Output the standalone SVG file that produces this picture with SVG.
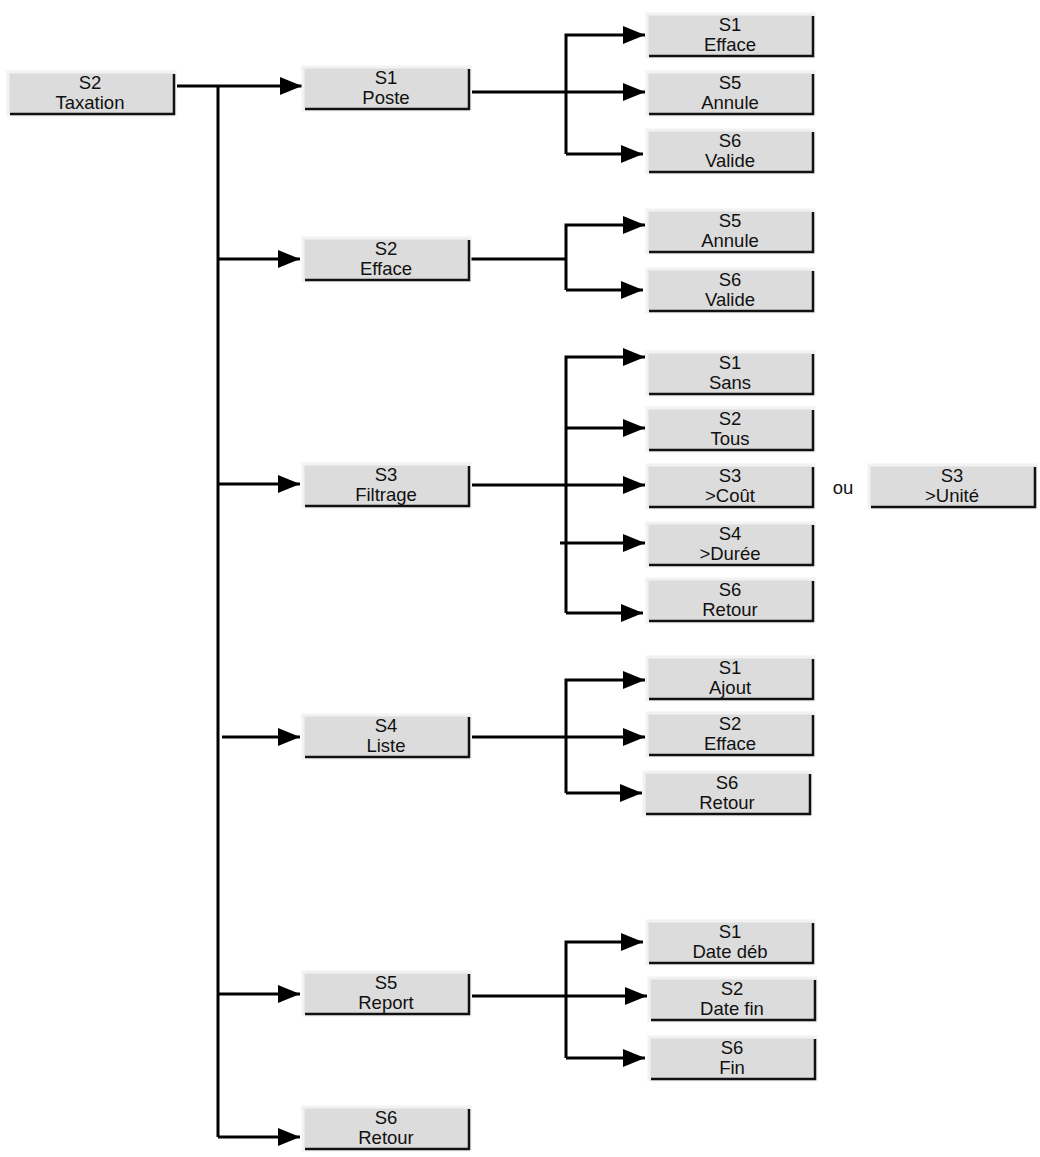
<svg xmlns="http://www.w3.org/2000/svg" width="1040" height="1157" viewBox="0 0 1040 1157">
<style>
.bg{fill:#dcdcdc;stroke:#f2f2f2;stroke-width:3}
.sh{fill:none;stroke:#111;stroke-width:2.5}
text{font-family:"Liberation Sans",Arial,sans-serif;font-size:18.5px;fill:#111;text-anchor:middle}
.c{fill:none;stroke:#000;stroke-width:3}
</style>
<defs>
<marker id="ar" markerWidth="22" markerHeight="18" refX="22" refY="9" orient="auto" markerUnits="userSpaceOnUse"><path d="M0,0 L22,9 L0,18 z" fill="#000"/></marker>
<g id="btn"><rect class="bg" x="0" y="0" width="167" height="43"/><path class="sh" d="M2,42 H166 V2"/></g>
</defs>
<g id="connectors">
<path class="c" d="M177,86 H302" marker-end="url(#ar)"/>
<path class="c" d="M218,86 V1137"/>
<path class="c" d="M218,259 H300" marker-end="url(#ar)"/>
<path class="c" d="M218,484 H300" marker-end="url(#ar)"/>
<path class="c" d="M222,737 H300" marker-end="url(#ar)"/>
<path class="c" d="M218,994 H300" marker-end="url(#ar)"/>
<path class="c" d="M218,1137 H300" marker-end="url(#ar)"/>
<path class="c" d="M472,92 H645" marker-end="url(#ar)"/>
<path class="c" d="M566,154 V35 H645" marker-end="url(#ar)"/>
<path class="c" d="M566,154 H643" marker-end="url(#ar)"/>
<path class="c" d="M470,259 H566"/>
<path class="c" d="M566,290 V225 H645" marker-end="url(#ar)"/>
<path class="c" d="M566,290 H643" marker-end="url(#ar)"/>
<path class="c" d="M472,485 H645" marker-end="url(#ar)"/>
<path class="c" d="M566,613 V357 H645" marker-end="url(#ar)"/>
<path class="c" d="M566,613 H643" marker-end="url(#ar)"/>
<path class="c" d="M566,428 H645" marker-end="url(#ar)"/>
<path class="c" d="M560,543 H645" marker-end="url(#ar)"/>
<path class="c" d="M472,737 H645" marker-end="url(#ar)"/>
<path class="c" d="M566,793 V680 H645" marker-end="url(#ar)"/>
<path class="c" d="M566,793 H642" marker-end="url(#ar)"/>
<path class="c" d="M472,996 H647" marker-end="url(#ar)"/>
<path class="c" d="M566,1058 V942 H643" marker-end="url(#ar)"/>
<path class="c" d="M566,1058 H645" marker-end="url(#ar)"/>
</g>
<g id="n0"><use href="#btn" x="8" y="72"/><text x="90" y="89">S2</text><text x="90" y="109">Taxation</text></g>
<g id="n1"><use href="#btn" x="303" y="67"/><text x="386" y="84">S1</text><text x="386" y="104">Poste</text></g>
<g id="n2"><use href="#btn" x="303" y="238"/><text x="386" y="255">S2</text><text x="386" y="275">Efface</text></g>
<g id="n3"><use href="#btn" x="303" y="464"/><text x="386" y="481">S3</text><text x="386" y="501">Filtrage</text></g>
<g id="n4"><use href="#btn" x="303" y="715"/><text x="386" y="732">S4</text><text x="386" y="752">Liste</text></g>
<g id="n5"><use href="#btn" x="303" y="972"/><text x="386" y="989">S5</text><text x="386" y="1009">Report</text></g>
<g id="n6"><use href="#btn" x="303" y="1107"/><text x="386" y="1124">S6</text><text x="386" y="1144">Retour</text></g>
<g id="n11"><use href="#btn" x="647" y="14"/><text x="730" y="31">S1</text><text x="730" y="51">Efface</text></g>
<g id="n12"><use href="#btn" x="647" y="72"/><text x="730" y="89">S5</text><text x="730" y="109">Annule</text></g>
<g id="n13"><use href="#btn" x="647" y="130"/><text x="730" y="147">S6</text><text x="730" y="167">Valide</text></g>
<g id="n21"><use href="#btn" x="647" y="210"/><text x="730" y="227">S5</text><text x="730" y="247">Annule</text></g>
<g id="n22"><use href="#btn" x="647" y="269"/><text x="730" y="286">S6</text><text x="730" y="306">Valide</text></g>
<g id="n31"><use href="#btn" x="647" y="352"/><text x="730" y="369">S1</text><text x="730" y="389">Sans</text></g>
<g id="n32"><use href="#btn" x="647" y="408"/><text x="730" y="425">S2</text><text x="730" y="445">Tous</text></g>
<g id="n33"><use href="#btn" x="647" y="465"/><text x="730" y="482">S3</text><text x="730" y="502">&gt;Coût</text></g>
<g id="n33b"><use href="#btn" x="869" y="465"/><text x="952" y="482">S3</text><text x="952" y="502">&gt;Unité</text></g>
<text x="843" y="494">ou</text>
<g id="n34"><use href="#btn" x="647" y="523"/><text x="730" y="540">S4</text><text x="730" y="560">&gt;Durée</text></g>
<g id="n35"><use href="#btn" x="647" y="579"/><text x="730" y="596">S6</text><text x="730" y="616">Retour</text></g>
<g id="n41"><use href="#btn" x="647" y="657"/><text x="730" y="674">S1</text><text x="730" y="694">Ajout</text></g>
<g id="n42"><use href="#btn" x="647" y="713"/><text x="730" y="730">S2</text><text x="730" y="750">Efface</text></g>
<g id="n43"><use href="#btn" x="644" y="772"/><text x="727" y="789">S6</text><text x="727" y="809">Retour</text></g>
<g id="n51"><use href="#btn" x="647" y="921"/><text x="730" y="938">S1</text><text x="730" y="958">Date déb</text></g>
<g id="n52"><use href="#btn" x="649" y="978"/><text x="732" y="995">S2</text><text x="732" y="1015">Date fin</text></g>
<g id="n53"><use href="#btn" x="649" y="1037"/><text x="732" y="1054">S6</text><text x="732" y="1074">Fin</text></g>
</svg>
